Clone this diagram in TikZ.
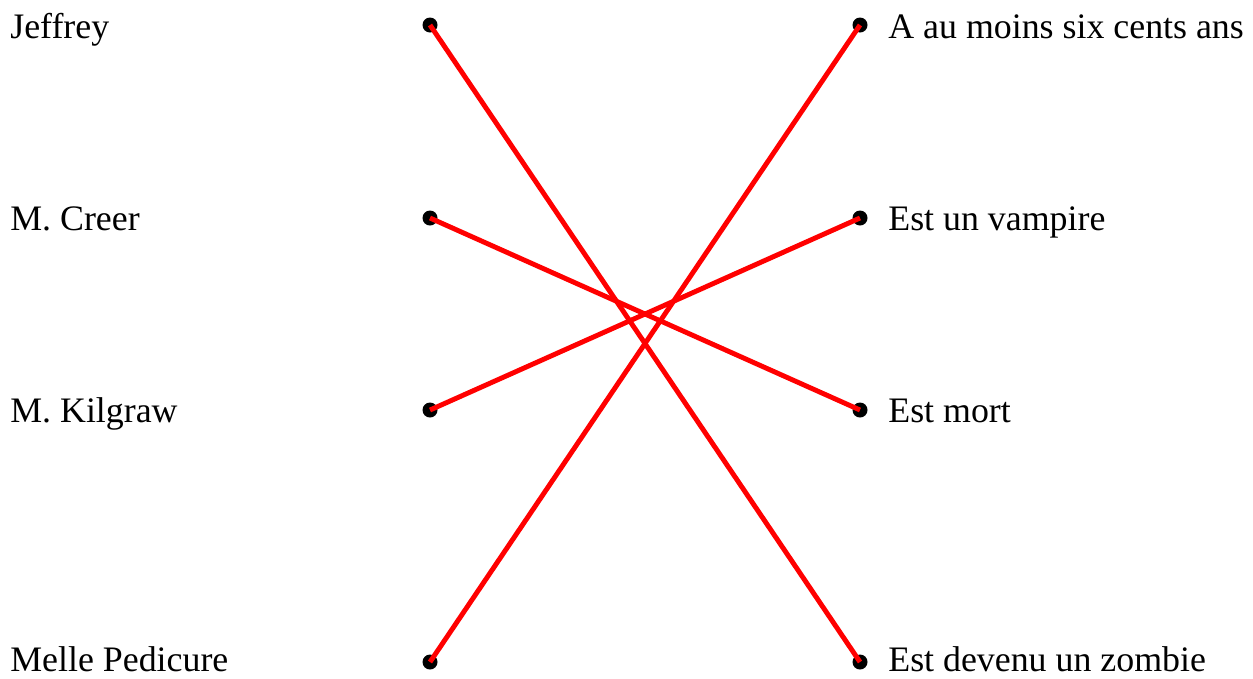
\documentclass[tikz,border=0pt]{standalone}
\usepackage{fontspec}
\setmainfont{Liberation Serif}
\usepackage{tikz}
\usetikzlibrary{positioning, calc}
\definecolor{linkred}{RGB}{255,0,0}
\tikzset{
  sdot/.style={circle, fill=black, inner sep=0pt, minimum size=0.3cm},
  lbl/.style={inner sep=0pt, font=\fontsize{20.4}{24}\selectfont, anchor=base west},
  link/.style={color=linkred, line width=2.8pt}
}
\begin{document}
\begin{tikzpicture}
  \useasboundingbox (0,0) rectangle (25.06,-13.56);
  % left column
  \node [sdot] (jeffrey) at (8.6,-0.5) {};
  \node [sdot] (creer) at (8.6,-4.36) {};
  \node [sdot] (kilgraw) at (8.6,-8.2) {};
  \node [sdot] (pedicure) at (8.6,-13.24) {};
  \node [lbl] (jeffreyt) at (0.2,-0.76) {Jeffrey};
  \node [lbl] (creert) at (0.2,-4.6) {M. Creer};
  \node [lbl] (kilgrawt) at (0.2,-8.44) {M. Kilgraw};
  \node [lbl] (pedicuret) at (0.2,-13.42) {Melle Pedicure};
  % right column
  \node [sdot] (ans) at (17.2,-0.5) {};
  \node [sdot] (vampire) at (17.2,-4.36) {};
  \node [sdot] (mort) at (17.2,-8.2) {};
  \node [sdot] (zombie) at (17.2,-13.24) {};
  \node [lbl] (anst) at ($(ans.center)+(0.56,-0.26)$) {A au moins six cents ans};
  \node [lbl] (vampiret) at ($(vampire.center)+(0.56,-0.24)$) {Est un vampire};
  \node [lbl] (mortt) at ($(mort.center)+(0.56,-0.24)$) {Est mort};
  \node [lbl] (zombiet) at ($(zombie.center)+(0.56,-0.18)$) {Est devenu un zombie};

  \draw [link] (jeffrey.center) -- (zombie.center);
  \draw [link] (creer.center) -- (mort.center);
  \draw [link] (kilgraw.center) -- (vampire.center);
  \draw [link] (pedicure.center) -- (ans.center);
\end{tikzpicture}
\end{document}
